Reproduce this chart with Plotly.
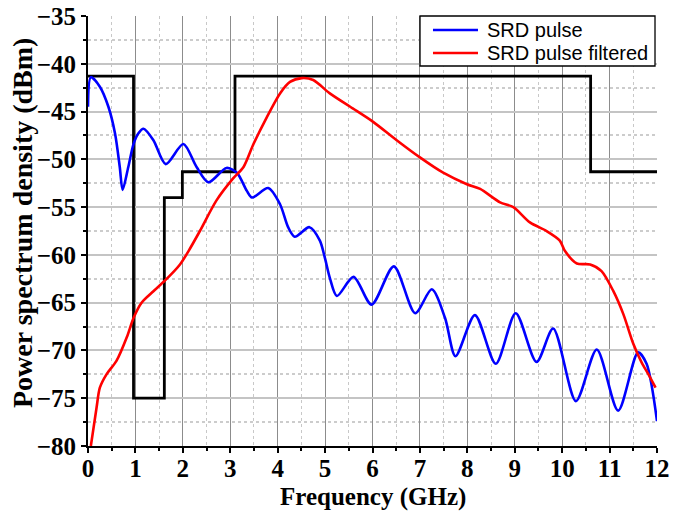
import plotly.graph_objects as go

# FCC-like mask (step)
mask_x = [0, 0.96, 1.61, 1.99, 3.1, 10.6, 12]
mask_y = [-41.3, -75.0, -54.0, -51.3, -41.3, -51.3, -51.3]

# SRD pulse
srd_x = [0, 0.06, 0.25, 0.43, 0.57, 0.67, 0.73, 0.85, 0.96, 1.06, 1.17, 1.38, 1.64,
         2.01, 2.29, 2.54, 2.92, 3.14, 3.35, 3.46, 3.80, 4.05, 4.22, 4.36, 4.67, 4.89,
         5.0, 5.10, 5.25, 5.60, 5.98, 6.45, 6.90, 7.25, 7.53, 7.75, 8.16, 8.60, 9.02,
         9.46, 9.81, 10.29, 10.73, 11.18, 11.60, 11.78, 12.0]
srd_y = [-44.5, -41.4, -42.4, -44.5, -47.3, -50.8, -53.2, -50.8, -48.4, -47.3, -46.8,
         -48.0, -50.5, -48.4, -50.8, -52.4, -50.9, -51.4, -53.3, -54.0, -53.0, -54.7,
         -57.1, -58.1, -57.1, -58.5, -60.4, -62.4, -64.3, -62.3, -65.2, -61.2, -66.1,
         -63.6, -66.6, -70.6, -66.3, -71.4, -66.1, -71.2, -67.7, -75.3, -69.9, -76.3,
         -70.2, -71.4, -77.4]

# SRD pulse filtered
filt_x = [0.06, 0.18, 0.25, 0.39, 0.60, 0.82, 0.96, 1.13, 1.38, 1.62, 1.94, 2.12, 2.36,
          2.71, 3.06, 3.28, 3.49, 3.77, 4.05, 4.26, 4.51, 4.75, 5.10, 5.53, 6.02, 6.51,
          7.0, 7.49, 7.99, 8.27, 8.69, 8.97, 9.32, 9.67, 9.95, 10.06, 10.31, 10.59,
          10.83, 11.08, 11.29, 11.50, 11.68, 11.82, 11.97]
filt_y = [-80, -76, -73.9, -72.5, -71.1, -68.6, -66.6, -65.0, -63.8, -62.7, -61.0, -59.6,
          -57.5, -54.3, -52.0, -50.8, -48.4, -45.6, -43.1, -41.9, -41.5, -41.7, -43.1,
          -44.5, -46.1, -48.0, -49.8, -51.4, -52.6, -53.1, -54.5, -55.0, -56.6, -57.5,
          -58.5, -59.6, -60.9, -61.0, -61.7, -63.8, -66.2, -69.3, -71.3, -72.5, -73.9]

series_names = ["SRD pulse", "SRD pulse filtered"]
series_colors = ["#0000ff", "#ff0000"]
x_title = "Frequency (GHz)"
y_title = "Power spectrum density (dBm)"

fig = go.Figure()
fig.add_trace(go.Scatter(x=mask_x, y=mask_y, mode="lines",
                         line=dict(color="black", width=2.8, shape="hv"), showlegend=False))
fig.add_trace(go.Scatter(x=srd_x, y=srd_y, mode="lines", name=series_names[0], showlegend=False,
                         line=dict(color=series_colors[0], width=2.6, shape="spline", smoothing=0.8)))
fig.add_trace(go.Scatter(x=filt_x, y=filt_y, mode="lines", name=series_names[1], showlegend=False,
                         line=dict(color=series_colors[1], width=2.6, shape="spline", smoothing=0.8)))

# legend drawn as a boxed key in paper coordinates
leg_x0, leg_x1, leg_y0, leg_y1 = 0.5835, 0.9965, 0.8837, 1.0
line_x0, line_x1, text_x = 0.6063, 0.6854, 0.6977
row_y = [0.9674, 0.9140]
shapes = [dict(type="rect", xref="paper", yref="paper", x0=leg_x0, x1=leg_x1, y0=leg_y0, y1=leg_y1,
               line=dict(color="black", width=1.3), fillcolor="white", layer="above")]
annotations = []
for name, col, ry in zip(series_names, series_colors, row_y):
    shapes.append(dict(type="line", xref="paper", yref="paper", x0=line_x0, x1=line_x1, y0=ry, y1=ry,
                       line=dict(color=col, width=2.6), layer="above"))
    annotations.append(dict(text=name, xref="paper", yref="paper", x=text_x, y=ry, xanchor="left",
                            yanchor="middle", showarrow=False,
                            font=dict(family="Liberation Sans", size=20, color="black")))

annotations += [
    dict(text="<b>" + x_title + "</b>", xref="paper", yref="paper", x=0.5, y=0,
         xanchor="center", yanchor="middle", yshift=-51, showarrow=False,
         font=dict(family="Liberation Serif", size=25, color="black")),
    dict(text="<b>" + y_title + "</b>", xref="paper", yref="paper", x=0, y=0.5,
         xanchor="center", yanchor="middle", xshift=-66, yshift=8, textangle=-90,
         showarrow=False, font=dict(family="Liberation Serif", size=28, color="black")),
]

tickfont = dict(family="Liberation Serif", size=25, color="black")
fig.update_layout(
    width=673, height=512,
    margin=dict(l=88, r=16, t=16, b=66),
    plot_bgcolor="white", paper_bgcolor="white",
    showlegend=False,
    xaxis=dict(range=[0, 12], dtick=1, tick0=0, showline=True, linecolor="black", linewidth=2,
               ticks="outside", ticklen=5, tickwidth=2, tickcolor="black", automargin=False,
               showgrid=True, gridcolor="#8c8c8c", gridwidth=1, ticklabelstandoff=-6,
               minor=dict(dtick=0.5, showgrid=True, gridcolor="#c8c8c8", griddash="dot",
                          ticks="outside", ticklen=3, tickcolor="black", tickwidth=1.5),
               tickfont=tickfont, zeroline=False, tickprefix="<b>", ticksuffix="</b>"),
    yaxis=dict(range=[-80, -35], dtick=5, tick0=-80, showline=True, linecolor="black", linewidth=2,
               ticks="outside", ticklen=5, tickwidth=2, tickcolor="black", automargin=False,
               showgrid=True, gridcolor="#c4c4c4", gridwidth=1.5,
               minor=dict(dtick=2.5, showgrid=True, gridcolor="#cccccc", griddash="dot",
                          ticks="outside", ticklen=3, tickcolor="black", tickwidth=1.5),
               tickfont=tickfont, zeroline=False, tickprefix="<b>", ticksuffix="</b>"),
    shapes=shapes,
    annotations=annotations,
)
fig.write_html("out.html")
